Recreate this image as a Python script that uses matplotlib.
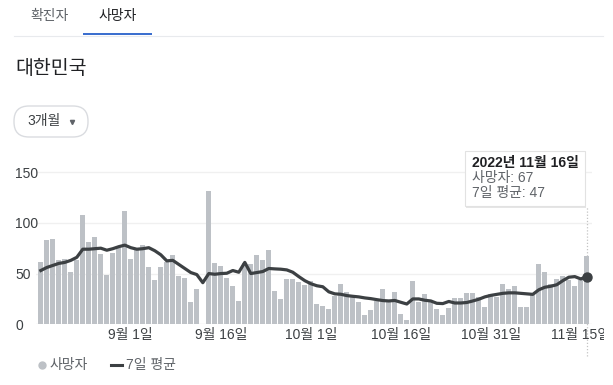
import numpy as np
import matplotlib.pyplot as plt
from matplotlib.patches import FancyBboxPatch, Rectangle
from matplotlib.lines import Line2D
from matplotlib.transforms import Bbox, TransformedBbox

plt.rcParams['font.family'] = ['Liberation Sans', 'Noto Sans CJK KR', 'DejaVu Sans']

# daily deaths, 2022-08-17 .. 2022-11-16 (nan = nothing reported that day)
deaths = [61, 83, 84, 63, 64, 52, 63, 108, 81, 86, 69, 49, 70, 75, 112,
          64, 73, 78, 56, 44, 56, 61, 68, 48, 46, 22, 35, np.nan, 131, 60,
          57, 46, 38, 23, 60, 59, 68, 63, 73, 33, 25, 45, 45, 42, 39,
          43, 20, 18, 15, 28, 40, 32, 29, 22, 9, 14, 23, 35, 23, 32,
          10, 4, 43, 22, 30, 22, 15, 9, 16, 26, 26, 31, 31, 27, 17,
          30, 27, 40, 35, 38, 17, 17, 29, 59, 52, 40, 45, 48, 44, 38, 44, 67]

# 7-day average as drawn
avg7 = [53, 56, 58, 60, 61, 63, 66, 74, 74, 74.5, 75, 73, 74.5, 76.5, 78,
        75.5, 74, 74.5, 75.5, 72.5, 68.5, 62.5, 63, 59, 55, 51, 49, 41, 50, 49.3,
        50, 50.3, 53, 51.3, 61, 50, 51, 52, 55, 54.6, 54.3, 53.6, 51.3, 47, 43,
        40, 38, 37, 32, 30, 29.6, 28.3, 27.6, 27, 26, 25.3, 24.3, 23.4, 23, 23.5,
        21.7, 20, 25, 25, 23.7, 23, 20.7, 20.4, 22.5, 21, 21, 21.5, 23, 24.7, 27,
        28.5, 29.5, 30.5, 31, 31, 30.5, 30, 29.5, 34, 36.5, 37.5, 39, 43, 46.4, 47, 44.7, 47]

tick_days = [15, 30, 45, 60, 75, 90]
tick_labels = ['9월 1일', '9월 16일', '10월 1일', '10월 16일', '10월 31일', '11월 15일']
y_ticks = [0, 50, 100, 150]

days = np.arange(len(deaths))

W, H = 613, 385
fig = plt.figure(figsize=(W / 100, H / 100), dpi=100)
px = fig.dpi_scale_trans


def inch(x, y):
    # pixel position (from top-left) -> inches for dpi_scale_trans
    return x / 100, (H - y) / 100


# chart area
ax_l, ax_r, ax_t, ax_b = 36, 592, 167, 324.3
ax = fig.add_axes([ax_l / W, (H - ax_b) / H, (ax_r - ax_l) / W, (ax_b - ax_t) / H])
ax.set_xlim((ax_l - 40.8) / 6, (ax_r - 40.8) / 6)
ax.set_ylim(0, 155)
for s in ax.spines.values():
    s.set_visible(False)

for v in y_ticks[1:]:
    ax.axhline(v, color='#f0f0f0', lw=1, zorder=0)
ax.axhline(0, color='#e6e6e6', lw=1, zorder=0)

ax.axvline(days[-1], ymin=-0.2, ymax=0.755, color='#c4c4c4', ls=(0, (1, 1.5)),
           lw=0.9, clip_on=False, zorder=0.5)

ax.bar(days, deaths, width=0.83, color='#bdc1c6', zorder=1)
ax.plot(days, avg7, color='#3c4043', lw=2.3, solid_joinstyle='round', zorder=2)
ax.plot(days[-1], avg7[-1], 'o', ms=6.5, color='#3c4043', zorder=3)

ax.set_yticks(y_ticks)
ax.set_yticklabels([str(v) for v in y_ticks])
ax.tick_params(axis='y', length=0, pad=(ax_l - 15) * 0.72, labelsize=10, labelcolor='#3c4043')
for lab in ax.get_yticklabels():
    lab.set_horizontalalignment('left')

ax.set_xticks(tick_days)
ax.set_xticklabels(tick_labels)
ax.tick_params(axis='x', length=0, pad=2.5, labelsize=10, labelcolor='#3c4043')
clip = TransformedBbox(Bbox([[0, 0], [604 / W, 1]]), fig.transFigure)
for lab in ax.get_xticklabels():
    lab.set_clip_box(clip)
    lab.set_clip_on(True)

# tabs
fig.text(49.5 / W, 1 - 16 / H, '확진자', ha='center', va='center', fontsize=10, color='#5f6368')
fig.text(117.5 / W, 1 - 16 / H, '사망자', ha='center', va='center', fontsize=10, color='#202124')
fig.add_artist(Line2D([14 / W, 603 / W], [1 - 35.5 / H] * 2, color='#e8eaed', lw=0.8))
fig.add_artist(Rectangle(inch(83, 35), 0.69, 0.025, transform=px, color='#3c6fcf', lw=0))

# title and range button
fig.text(15 / W, 1 - 69 / H, '대한민국', ha='left', va='center', fontsize=14, color='#202124')
fig.add_artist(FancyBboxPatch(inch(14, 137), 0.74, 0.31, transform=px,
                              boxstyle='round,pad=0,rounding_size=0.15',
                              fc='white', ec='#dadce0', lw=1))
fig.text(27 / W, 1 - 121 / H, '3개월', ha='left', va='center', fontsize=10, color='#3c4043')
fig.add_artist(Line2D([72 / W], [1 - 121.5 / H], marker='v', ms=3, color='#5f6368', lw=0))

# tooltip
fig.add_artist(Rectangle(inch(466, 208), 1.20, 0.55, transform=px, fc='#d6d6d6', ec='none', alpha=0.6))
fig.add_artist(Rectangle(inch(465, 206), 1.20, 0.55, transform=px, fc='white', ec='#e2e2e2', lw=0.8))
fig.text(472 / W, 1 - 163 / H, '2022년 11월 16일', ha='left', va='center', fontsize=10,
         fontweight='bold', color='#202124')
fig.text(472 / W, 1 - 178 / H, f'사망자: {deaths[-1]}', ha='left', va='center', fontsize=10, color='#5f6368')
fig.text(472 / W, 1 - 193.5 / H, f'7일 평균: {round(avg7[-1])}', ha='left', va='center', fontsize=10, color='#5f6368')

# legend
fig.add_artist(Line2D([42 / W], [1 - 365 / H], marker='o', ms=5, color='#bdc1c6', lw=0))
fig.text(50 / W, 1 - 365 / H, '사망자', ha='left', va='center', fontsize=10, color='#5f6368')
fig.add_artist(Line2D([111 / W, 122 / W], [1 - 365 / H] * 2, color='#3c4043', lw=2.2))
fig.text(126 / W, 1 - 365 / H, '7일 평균', ha='left', va='center', fontsize=10, color='#5f6368')

fig.savefig('out.png', dpi=100)
